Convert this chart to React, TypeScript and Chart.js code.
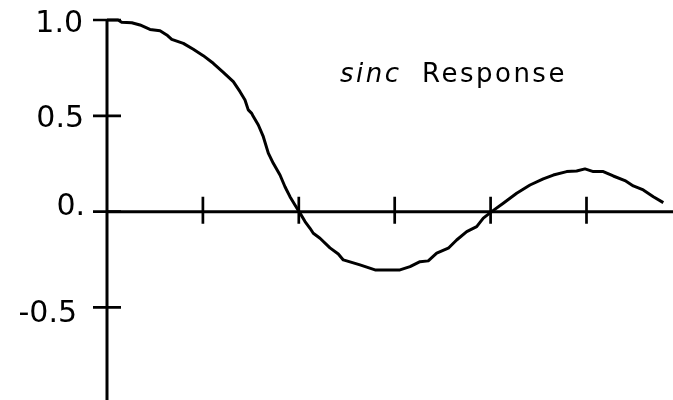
import React, { useEffect, useRef } from 'react';
import { Chart, registerables } from 'chart.js';

Chart.register(...registerables);

// Sampled response curve: x in tick units (ticks at 1..5), y is the amplitude
const xValues = [
  0, 0.115, 0.153, 0.258, 0.344, 0.448, 0.553, 0.623, 0.675, 0.796,
  0.9, 1.004, 1.108, 1.213, 1.317, 1.387, 1.439, 1.473, 1.509, 1.526,
  1.578, 1.63, 1.682, 1.734, 1.804, 1.856, 1.908, 1.96, 2.013, 2.065,
  2.117, 2.151, 2.221, 2.325, 2.412, 2.464, 2.638, 2.795, 3.055, 3.16,
  3.264, 3.35, 3.438, 3.559, 3.646, 3.751, 3.855, 3.924, 4.011, 4.132,
  4.272, 4.411, 4.549, 4.654, 4.793, 4.897, 4.984, 5.071, 5.175, 5.279,
  5.401, 5.488, 5.592, 5.697, 5.801,
];
const yValues = [
  1.0, 1.0, 0.988, 0.986, 0.974, 0.951, 0.944, 0.922, 0.899, 0.878,
  0.847, 0.814, 0.774, 0.727, 0.678, 0.626, 0.583, 0.531, 0.513, 0.496,
  0.452, 0.391, 0.305, 0.252, 0.191, 0.13, 0.078, 0.035, -0.008, -0.052,
  -0.087, -0.113, -0.139, -0.189, -0.221, -0.252, -0.278, -0.304, -0.304, -0.287,
  -0.261, -0.257, -0.217, -0.191, -0.148, -0.104, -0.078, -0.034, 0.0, 0.044,
  0.096, 0.139, 0.171, 0.191, 0.209, 0.212, 0.223, 0.209, 0.209, 0.186,
  0.162, 0.134, 0.113, 0.078, 0.047,
];

const xTickValues = [1, 2, 3, 4, 5];
const yTickValues = [1.0, 0.5, 0, -0.5];
const yTickLabels = ['1.0', '0.5', '0.', '-0.5'];

const titleItalic = 'sinc';
const titleRest = 'Response';

// Axis ranges (x in tick units)
const X_MIN = 0;
const X_MAX = 5.902;
const Y_MIN = -0.983;
const Y_MAX = 1;

// Anchor of the caption, in data units
const CAPTION_X = 2.43;
const CAPTION_Y = 0.675;

// Per-label pixel nudges [dx, dy] for the y tick labels
const Y_LABEL_NUDGE: Array<[number, number]> = [
  [0, 0],
  [1, 0],
  [2, -8],
  [-6, 3],
];

const INK = '#000000';

// Draws axes crossing at the origin, with ticks that straddle each axis
const crossedAxes = {
  id: 'crossedAxes',
  beforeDatasetsDraw(chart: any) {
    const { ctx, chartArea, scales } = chart;
    const xs = scales.x;
    const ys = scales.y;
    const x0 = xs.getPixelForValue(0);
    const y0 = ys.getPixelForValue(0);

    ctx.save();
    ctx.strokeStyle = INK;
    ctx.lineWidth = 3;
    ctx.lineCap = 'butt';
    ctx.beginPath();
    ctx.moveTo(x0, chartArea.top);
    ctx.lineTo(x0, chartArea.bottom);
    ctx.moveTo(chartArea.left, y0);
    ctx.lineTo(chartArea.right, y0);
    ctx.stroke();

    ctx.lineWidth = 2.7;
    ctx.beginPath();
    for (const v of xTickValues) {
      const px = xs.getPixelForValue(v);
      ctx.moveTo(px, y0 - 15);
      ctx.lineTo(px, y0 + 12);
    }
    for (const v of yTickValues) {
      const py = ys.getPixelForValue(v);
      ctx.moveTo(x0 - 14, py);
      ctx.lineTo(x0 + 14, py);
    }
    ctx.stroke();

    ctx.fillStyle = INK;
    ctx.font = '30px "DejaVu Sans"';
    ctx.textAlign = 'right';
    ctx.textBaseline = 'alphabetic';
    yTickValues.forEach((v, i) => {
      const [dx, dy] = Y_LABEL_NUDGE[i];
      ctx.fillText(yTickLabels[i], x0 - 24 + dx, ys.getPixelForValue(v) + 11.5 + dy);
    });
    ctx.restore();
  },
  afterDatasetsDraw(chart: any) {
    const { ctx, scales } = chart;
    const cx = scales.x.getPixelForValue(CAPTION_X);
    const cy = scales.y.getPixelForValue(CAPTION_Y);
    ctx.save();
    ctx.fillStyle = INK;
    ctx.textAlign = 'left';
    ctx.textBaseline = 'alphabetic';
    (ctx as any).letterSpacing = '2.5px';
    ctx.font = 'italic 26px "DejaVu Sans"';
    ctx.fillText(titleItalic, cx, cy);
    ctx.font = '26px "DejaVu Sans"';
    ctx.fillText(titleRest, cx + 82, cy);
    ctx.restore();
  },
};

export default function App() {
  const canvasRef = useRef<HTMLCanvasElement | null>(null);

  useEffect(() => {
    const canvas = canvasRef.current;
    if (!canvas) return;
    const chart = new Chart(canvas, {
      type: 'line',
      data: {
        datasets: [
          {
            data: xValues.map((x, i) => ({ x, y: yValues[i] })),
            borderColor: INK,
            borderWidth: 3,
            pointRadius: 0,
            fill: false,
            tension: 0,
            clip: false as any,
            borderJoinStyle: 'round',
          },
        ],
      },
      options: {
        responsive: false,
        animation: false,
        devicePixelRatio: 1,
        layout: { padding: { left: 107, top: 20, right: 0, bottom: 0 } },
        plugins: {
          legend: { display: false },
          tooltip: { enabled: false },
        },
        scales: {
          x: { type: 'linear', min: X_MIN, max: X_MAX, display: false },
          y: { type: 'linear', min: Y_MIN, max: Y_MAX, display: false },
        },
      },
      plugins: [crossedAxes],
    });
    return () => chart.destroy();
  }, []);

  return (
    <div style={{ position: 'absolute', left: 0, top: 0, width: 673, height: 400, background: '#ffffff' }}>
      <canvas ref={canvasRef} width={673} height={400} style={{ display: 'block' }} />
    </div>
  );
}
